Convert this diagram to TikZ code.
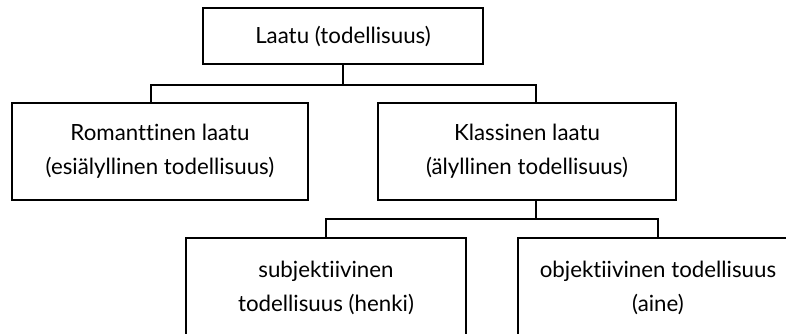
\documentclass[tikz,border=0pt]{standalone}
\usepackage{fontspec}
\setmainfont{Lato}[Ligatures={NoCommon}]
\begin{document}
\begin{tikzpicture}[x=1pt,y=-1pt,line width=1.2pt,
  box/.style={draw,rectangle,align=center,inner sep=0pt,
    font=\fontsize{22.3}{34}\selectfont},
  conn/.style={draw,line width=1.2pt}]
\useasboundingbox (0,0) rectangle (786,333);
\clip (0,0) rectangle (786,333);
\node[box,minimum width=280pt,minimum height=56pt] (top) at (343,36) {Laatu (todellisuus)};
\node[box,minimum width=296pt,minimum height=97pt] (rom) at (160,151.5) {Romanttinen laatu\\(esiälyllinen todellisuus)};
\node[box,minimum width=298pt,minimum height=97pt] (kla) at (527,151.5) {Klassinen laatu\\(älyllinen todellisuus)};
\node[box,minimum width=280pt,minimum height=100pt] (sub) at (326,288) {subjektiivinen\\todellisuus (henki)};
\node[box,minimum width=280pt,minimum height=100pt] (obj) at (658,288) {objektiivinen todellisuus\\(aine)};
\coordinate (bL) at (151,85);
\coordinate (bR) at (536,85);
\coordinate (cL) at (326,219);
\coordinate (cR) at (658,219);
\draw[conn] (top.south) -- (top.south |- bL);
\draw[conn] (bL |- rom.north) -- (bL) -- (bR) -- (bR |- kla.north);
\draw[conn] (kla.south -| bR) -- (bR |- cL);
\draw[conn] (sub.north) -- (cL) -- (cR) -- (obj.north);
\end{tikzpicture}
\end{document}
